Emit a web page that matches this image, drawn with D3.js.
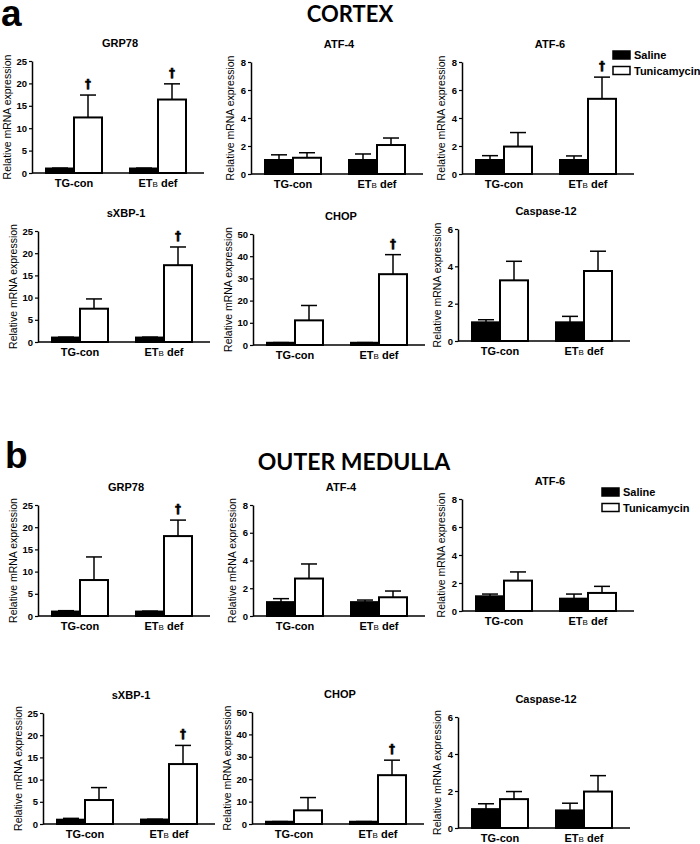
<!DOCTYPE html>
<html>
<head>
<meta charset="utf-8">
<script src="https://cdnjs.cloudflare.com/ajax/libs/d3/7.8.5/d3.min.js"></script>
<style>
  body { margin: 0; background: #fff; }
  svg { display: block; font-family: "Liberation Sans", Arial, sans-serif; }
</style>
</head>
<body>
<svg width="700" height="844"></svg>
<script>
// groups / series / genes
var groups = ["TG-con", "ETB def"];
var seriesNames = ["Saline", "Tunicamycin"];
var genes = ["GRP78", "ATF-4", "ATF-6", "sXBP-1", "CHOP", "Caspase-12"];
var yMax = [25, 8, 8, 25, 50, 6];
var yStep = [5, 2, 2, 5, 10, 2];

// CORTEX: [TG-con, ETB def] per gene
var cortexSaline    = [[1.0, 1.0], [1.0, 1.0], [1.0, 1.0], [1.0, 1.0], [1.0, 1.0], [1.0, 1.0]];
var cortexSalineErr = [[0.1, 0.1], [0.37, 0.43], [0.31, 0.29], [0.1, 0.1], [0.1, 0.1], [0.14, 0.32]];
var cortexTunic     = [[12.4, 16.4], [1.16, 2.07], [1.96, 5.37], [7.5, 17.3], [11.1, 31.9], [3.25, 3.75]];
var cortexTunicErr  = [[5.0, 3.5], [0.36, 0.5], [1.0, 1.55], [2.2, 4.1], [6.7, 8.8], [1.02, 1.06]];
var cortexSig       = [[1, 1], [0, 0], [0, 1], [0, 1], [0, 1], [0, 0]];

// OUTER MEDULLA
var medullaSaline    = [[1.0, 1.0], [1.0, 1.0], [1.05, 0.88], [0.97, 1.0], [1.0, 1.0], [1.02, 0.95]];
var medullaSalineErr = [[0.2, 0.1], [0.25, 0.15], [0.16, 0.33], [0.3, 0.08], [0.1, 0.1], [0.29, 0.39]];
var medullaTunic     = [[8.1, 18.0], [2.7, 1.35], [2.17, 1.29], [5.4, 13.5], [6.1, 21.8], [1.56, 1.97]];
var medullaTunicErr  = [[5.2, 3.6], [1.05, 0.45], [0.62, 0.47], [2.8, 4.2], [5.7, 6.7], [0.41, 0.86]];
var medullaSig       = [[0, 1], [0, 0], [0, 0], [0, 1], [0, 1], [0, 0]];

var svg = d3.select("svg");

// panel layout: y-axis x position, plot top, plot bottom
var cortexLayout = [
  {x: 32, top: 61, bottom: 173}, {x: 251, top: 62, bottom: 174}, {x: 462, top: 62, bottom: 174},
  {x: 38, top: 231, bottom: 342}, {x: 253, top: 234, bottom: 345}, {x: 458, top: 229, bottom: 341}
];
var medullaLayout = [
  {x: 38, top: 505, bottom: 616}, {x: 253, top: 505, bottom: 616}, {x: 462, top: 499, bottom: 611},
  {x: 43, top: 713, bottom: 824}, {x: 252, top: 712, bottom: 824}, {x: 458, top: 717, bottom: 828}
];

var x0 = d3.scaleBand().domain(groups).range([0, 168]).paddingInner(1/3).paddingOuter(1/6);
var x1 = d3.scaleBand().domain(seriesNames).range([0, x0.bandwidth()]);

function drawPanel(g, gi, lay, sal, salErr, tun, tunErr, sig) {
  var y = d3.scaleLinear().domain([0, yMax[gi]]).range([lay.bottom - lay.top, 0]);
  var h = lay.bottom - lay.top;
  var p = g.append("g").attr("transform", "translate(" + lay.x + "," + lay.top + ")");

  var rows = groups.map(function(grp, k){
    return [
      {grp: grp, s: "Saline", v: sal[gi][k], e: salErr[gi][k], sig: 0},
      {grp: grp, s: "Tunicamycin", v: tun[gi][k], e: tunErr[gi][k], sig: sig[gi][k]}
    ];
  });
  var flat = [].concat.apply([], rows);

  p.selectAll("rect.bar")
    .data(flat)
    .enter()
    .append("rect")
    .attr("class", "bar")
    .attr("x", function(d){ return x0(d.grp) + x1(d.s); })
    .attr("y", function(d){ return y(d.v); })
    .attr("width", x1.bandwidth())
    .attr("height", function(d){ return h - y(d.v); })
    .attr("fill", function(d){ return d.s == "Saline" ? "#000" : "#fff"; })
    .attr("stroke", "#000")
    .attr("stroke-width", 2);

  // error bars (upper only)
  var cx = function(d){ return x0(d.grp) + x1(d.s) + x1.bandwidth()/2; };
  var eb = p.selectAll("g.err").data(flat).enter().append("g").attr("class", "err");
  eb.append("line")
    .attr("x1", cx).attr("x2", cx)
    .attr("y1", function(d){ return y(d.v); })
    .attr("y2", function(d){ return y(d.v + d.e); })
    .attr("stroke", "#000").attr("stroke-width", 1.5);
  eb.append("line")
    .attr("x1", function(d){ return cx(d) - 8; })
    .attr("x2", function(d){ return cx(d) + 8; })
    .attr("y1", function(d){ return y(d.v + d.e); })
    .attr("y2", function(d){ return y(d.v + d.e); })
    .attr("stroke", "#000").attr("stroke-width", 1.5);

  // daggers
  p.selectAll("text.sig")
    .data(flat.filter(function(d){ return d.sig; }))
    .enter()
    .append("text")
    .attr("class", "sig")
    .attr("x", cx)
    .attr("y", function(d){ return y(d.v + d.e) - 7; })
    .attr("text-anchor", "middle")
    .attr("font-family", "DejaVu Sans, sans-serif")
    .attr("font-size", 12)
    .attr("font-weight", "bold")
    .attr("fill", "#000")
    .attr("stroke", "#000")
    .attr("stroke-width", 0.5)
    .text("\u2020");

  var yAxis = d3.axisLeft(y)
    .tickValues(d3.range(0, yMax[gi] + yStep[gi] / 2, yStep[gi]))
    .tickFormat(d3.format("d"))
    .tickSize(3)
    .tickSizeOuter(0)
    .tickPadding(2);
  var ya = p.append("g").call(yAxis);
  ya.select(".domain").attr("stroke-width", 1.5);
  ya.selectAll(".tick line").attr("stroke-width", 1.2);
  ya.selectAll("text").attr("font-size", 9.5).attr("font-weight", "bold").attr("fill", "#000")
    .attr("font-family", "Liberation Sans, Arial, sans-serif");

  var xAxis = d3.axisBottom(x0).tickSize(0).tickSizeOuter(0).tickPadding(6);
  var xa = p.append("g").attr("transform", "translate(0," + h + ")").call(xAxis);
  xa.select(".domain").attr("stroke-width", 1.5).attr("d", "M0,0H172");
  xa.selectAll("text")
    .attr("font-size", 11).attr("font-weight", "bold").attr("fill", "#000")
    .attr("font-family", "Liberation Sans, Arial, sans-serif")
    .each(function(d){
      if (d == "ETB def") {
        var t = d3.select(this).text("");
        t.append("tspan").text("ET");
        t.append("tspan").attr("font-size", 8).attr("font-weight", "normal").text("B");
        t.append("tspan").text(" def");
      }
    });

  // y label
  var lx = yMax[gi] >= 10 ? -21 : -17;
  p.append("text")
    .attr("transform", "translate(" + lx + "," + (h / 2) + ") rotate(-90)")
    .attr("text-anchor", "middle")
    .attr("font-size", 10.5)
    .text("Relative mRNA expression");

  // title
  p.append("text")
    .attr("x", 88)
    .attr("y", -14)
    .attr("text-anchor", "middle")
    .attr("font-size", 11)
    .attr("font-weight", "bold")
    .text(genes[gi]);
}

function drawSection(layout, sal, salErr, tun, tunErr, sig) {
  var g = svg.append("g");
  genes.forEach(function(gene, gi){
    drawPanel(g, gi, layout[gi], sal, salErr, tun, tunErr, sig);
  });
}

drawSection(cortexLayout, cortexSaline, cortexSalineErr, cortexTunic, cortexTunicErr, cortexSig);
drawSection(medullaLayout, medullaSaline, medullaSalineErr, medullaTunic, medullaTunicErr, medullaSig);

// section letters and headers
svg.append("text").attr("x", 1).attr("y", 26).attr("font-size", 37).attr("font-weight", "bold").text("a");
svg.append("text").attr("x", 5).attr("y", 468).attr("font-size", 37).attr("font-weight", "bold").text("b");
svg.append("text").attr("x", 350).attr("y", 22).attr("text-anchor", "middle")
  .attr("font-family", "Lato, 'Open Sans', sans-serif").attr("font-size", 22).attr("font-weight", "bold")
  .text("CORTEX");
svg.append("text").attr("x", 354).attr("y", 470).attr("text-anchor", "middle")
  .attr("font-family", "Lato, 'Open Sans', sans-serif").attr("font-size", 23).attr("font-weight", "bold")
  .text("OUTER MEDULLA");

// legends
function legend(lx, ly) {
  var lg = svg.append("g").attr("transform", "translate(" + lx + "," + ly + ")");
  seriesNames.forEach(function(s, i){
    lg.append("rect")
      .attr("x", 0).attr("y", i * 15.5)
      .attr("width", 17).attr("height", 8)
      .attr("fill", i == 0 ? "#000" : "#fff")
      .attr("stroke", "#000").attr("stroke-width", 1.5);
    lg.append("text")
      .attr("x", 21).attr("y", i * 15.5 + 8)
      .attr("font-size", 11).attr("font-weight", "bold")
      .text(s);
  });
}
legend(613, 51);
legend(602, 488);
</script>
</body>
</html>
